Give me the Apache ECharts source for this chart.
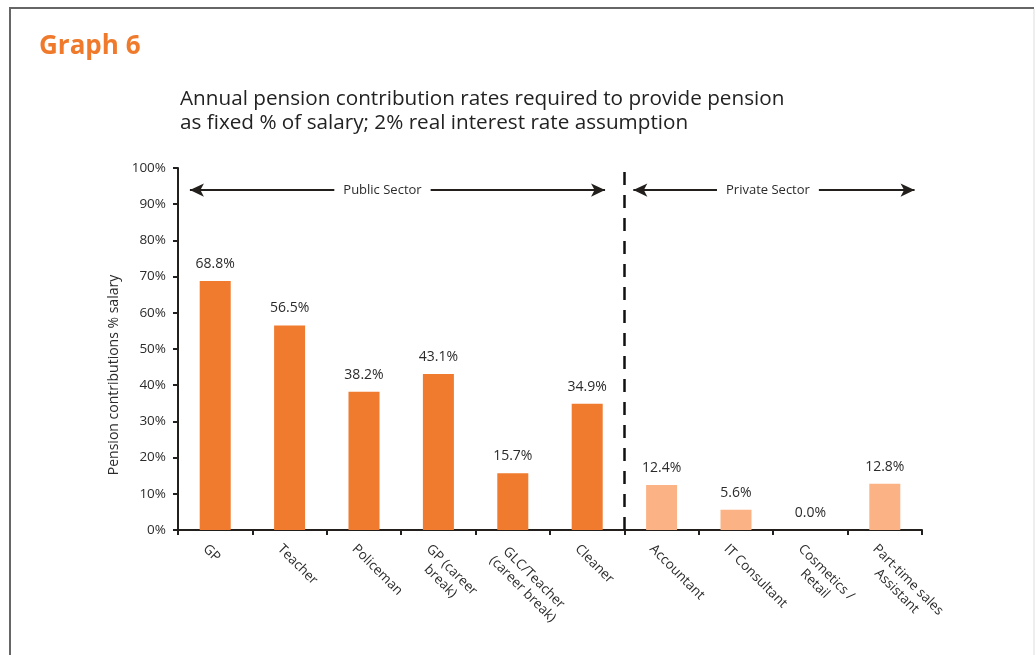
<!DOCTYPE html>
<html>
<head>
<meta charset="utf-8">
<title>Graph 6</title>
<script src="https://cdn.jsdelivr.net/npm/echarts@6/dist/echarts.min.js"></script>
<style>
  html, body { margin: 0; padding: 0; background: #fff; }
  #chart { width: 1036px; height: 655px; }
</style>
</head>
<body>
<div id="chart"></div>
<script>
// Occupations along the x axis (line breaks as printed under the axis)
const categories = [
  'GP', 'Teacher', 'Policeman', 'GP (career\nbreak)', 'GLC/Teacher\n(career break)', 'Cleaner',
  'Accountant', 'IT Consultant', 'Cosmetics /\nRetail', 'Part-time sales\nAssistant'
];
// Required contribution, % of salary
const publicSector  = [68.8, 56.5, 38.2, 43.1, 15.7, 34.9, '-', '-', '-', '-'];
const privateSector = ['-', '-', '-', '-', '-', '-', 12.4, 5.6, 0.0, 12.8];
const yTicks = [0, 10, 20, 30, 40, 50, 60, 70, 80, 90, 100];

const FONT = 'Open Sans';
const TEXT = '#2b2b2b';

const chart = echarts.init(document.getElementById('chart'), null, { renderer: 'canvas' });

const valueLabel = {
  show: true,
  position: 'top',
  distance: 10,
  color: TEXT,
  fontFamily: FONT,
  fontSize: 14,
  formatter: p => p.value.toFixed(1) + '%'
};

const sectorLabel = (text, dx) => ({
  show: true, position: 'middle', formatter: text,
  distance: 0, verticalAlign: 'middle', offset: [dx, 0],
  color: TEXT, fontFamily: FONT, fontSize: 13,
  backgroundColor: '#fff', padding: [2, 9]
});

chart.setOption({
  backgroundColor: '#fff',
  animation: false,
  title: [
    {
      text: 'Graph 6',
      left: 34, top: 29,
      textStyle: { color: '#F07A2C', fontFamily: FONT, fontSize: 26, fontWeight: 'bold' }
    },
    {
      text: 'Annual pension contribution rates required to provide pension\nas fixed % of salary; 2% real interest rate assumption',
      left: 175, top: 82,
      textStyle: { color: '#222', fontFamily: FONT, fontSize: 20.7, fontWeight: 'normal', lineHeight: 24 }
    }
  ],
  grid: { left: 178, right: 114, top: 168, bottom: 125, containLabel: false },
  xAxis: [
    {
      type: 'category',
      data: categories,
      axisLine: { lineStyle: { color: '#231f1c', width: 2 } },
      axisTick: { show: true, alignWithLabel: false, length: 5, lineStyle: { color: '#231f1c', width: 2 } },
      axisLabel: {
        interval: 0,
        rotate: -45,
        margin: 7,
        verticalAlign: 'top',
        padding: [6, 0, 0, 0],
        color: TEXT,
        fontFamily: FONT,
        fontSize: 13.5,
        formatter: v => v.split('\n').map(s => '{c|' + s + '}').join('\n'),
        rich: { c: { align: 'center', color: TEXT, fontFamily: FONT, fontSize: 13.5, lineHeight: 16 } }
      }
    },
    {
      // helper axis spanning the ten category slots, used for the sector annotations
      type: 'value', min: 0, max: 10, show: false, position: 'bottom'
    }
  ],
  yAxis: {
    type: 'value',
    min: yTicks[0], max: yTicks[yTicks.length - 1], interval: 10,
    name: 'Pension contributions % salary',
    nameLocation: 'middle',
    nameGap: 56,
    nameRotate: 90,
    nameTextStyle: { color: TEXT, fontFamily: FONT, fontSize: 14, padding: [0, 52, 0, 0] },
    axisLine: { show: true, lineStyle: { color: '#231f1c', width: 2 } },
    axisTick: { show: true, length: 5, lineStyle: { color: '#231f1c', width: 2 } },
    splitLine: { show: false },
    axisLabel: {
      color: TEXT, fontFamily: FONT, fontSize: 13.5, margin: 12,
      formatter: v => v + '%'
    }
  },
  series: [
    {
      name: 'Public Sector',
      type: 'bar',
      stack: 'occ',
      barWidth: 31,
      data: publicSector,
      itemStyle: { color: '#F07A2E' },
      label: valueLabel
    },
    {
      name: 'Private Sector',
      type: 'bar',
      stack: 'occ',
      barWidth: 31,
      data: privateSector,
      itemStyle: { color: '#FBB385' },
      label: valueLabel
    },
    {
      // sector divider and range arrows
      name: 'sectors',
      type: 'line',
      xAxisIndex: 1,
      yAxisIndex: 0,
      data: [],
      silent: true,
      markLine: {
        silent: true,
        animation: false,
        data: [
          [
            { coord: [6, 0], symbol: 'none', lineStyle: { color: '#111', width: 2.5, type: [13, 10] } },
            { coord: [6, 99.5], symbol: 'none' }
          ],
          [
            {
              coord: [0.16, 93.9], symbol: 'arrow', symbolSize: [10, 14],
              lineStyle: { color: '#231f1c', width: 2, type: 'solid' },
              label: sectorLabel('Public Sector', -15)
            },
            { coord: [5.74, 93.9], symbol: 'arrow', symbolSize: [10, 14] }
          ],
          [
            {
              coord: [6.12, 93.9], symbol: 'arrow', symbolSize: [10, 14],
              lineStyle: { color: '#231f1c', width: 2, type: 'solid' },
              label: sectorLabel('Private Sector', -6)
            },
            { coord: [9.9, 93.9], symbol: 'arrow', symbolSize: [10, 14] }
          ]
        ]
      }
    }
  ],
  graphic: [
    { type: 'line', shape: { x1: 9, y1: 8, x2: 1034, y2: 8 }, style: { stroke: '#666', lineWidth: 2 }, silent: true },
    { type: 'line', shape: { x1: 10, y1: 8, x2: 10, y2: 655 }, style: { stroke: '#666', lineWidth: 2 }, silent: true },
    { type: 'line', shape: { x1: 1034, y1: 9, x2: 1034, y2: 655 }, style: { stroke: '#ddd', lineWidth: 1 }, silent: true }
  ]
});
</script>
</body>
</html>
